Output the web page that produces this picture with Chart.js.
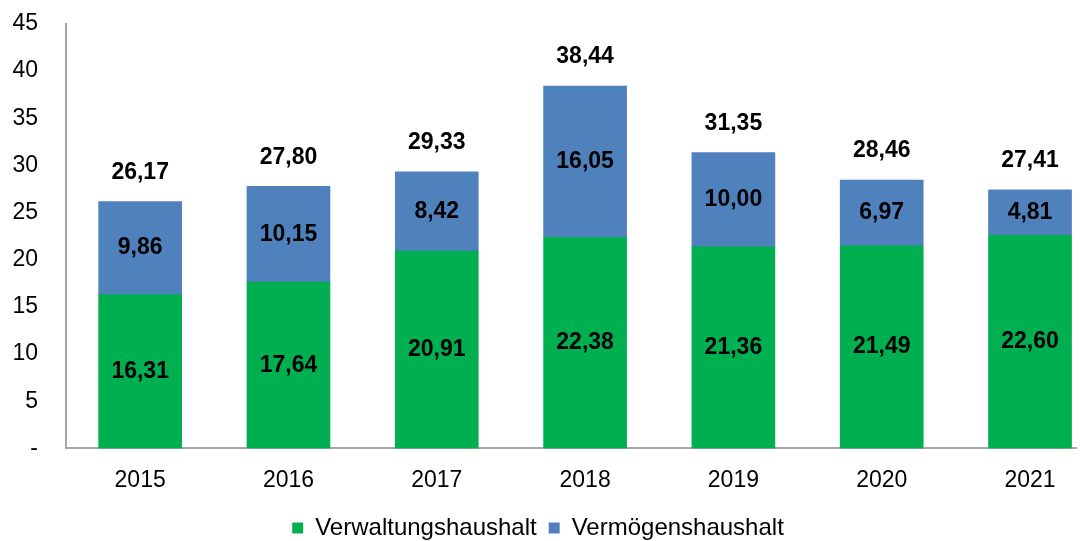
<!DOCTYPE html>
<html>
<head>
<meta charset="utf-8">
<script src="https://cdn.jsdelivr.net/npm/chart.js@4.4.1/dist/chart.umd.min.js"></script>
<style>
    html, body { margin: 0; padding: 0; background: #fff; }
    .chart_box { width: 1090px; height: 541px; }
</style>
</head>
<body>
<div class="chart_box"><canvas id="chart_container"></canvas></div>
<script>
const years = [2015, 2016, 2017, 2018, 2019, 2020, 2021];
const verwaltung = [16.31, 17.64, 20.91, 22.38, 21.36, 21.49, 22.60];
const vermoegen = [9.86, 10.15, 8.42, 16.05, 10.00, 6.97, 4.81];
const totals = [26.17, 27.80, 29.33, 38.44, 31.35, 28.46, 27.41];
const yTicks = [0, 5, 10, 15, 20, 25, 30, 35, 40, 45];

const FONT = "'Liberation Sans', Arial, sans-serif";
Chart.defaults.font.family = FONT;
Chart.defaults.font.size = 23;
Chart.defaults.color = '#000';

function fmt(v) {
    return v.toFixed(2).replace('.', ',');
}

// draws the numbers inside the segments and the totals over each column
const valueLabels = {
    id: 'valueLabels',
    afterDatasetsDraw(chart) {
        const ctx = chart.ctx;
        ctx.save();
        ctx.font = 'bold 23px ' + FONT;
        ctx.fillStyle = '#000';
        ctx.textAlign = 'center';
        ctx.textBaseline = 'middle';
        chart.data.datasets.forEach((ds, i) => {
            chart.getDatasetMeta(i).data.forEach((bar, j) => {
                ctx.fillText(fmt(ds.data[j].y), bar.x, (bar.y + bar.base) / 2);
            });
        });
        const top = chart.getDatasetMeta(1).data;
        top.forEach((bar, j) => {
            ctx.fillText(fmt(totals[j]), bar.x, bar.y - 29);
        });
        ctx.restore();
    }
};

const ctx = document.getElementById('chart_container').getContext('2d');
new Chart(ctx, {
    type: 'bar',
    data: {
        datasets: [{
            label: 'Verwaltungshaushalt',
            data: years.map((y, i) => ({ x: y, y: verwaltung[i] })),
            backgroundColor: '#00B050',
            barThickness: 83
        }, {
            label: 'Vermögenshaushalt',
            data: years.map((y, i) => ({ x: y, y: vermoegen[i] })),
            backgroundColor: '#4F81BD',
            barThickness: 83
        }]
    },
    options: {
        responsive: true,
        maintainAspectRatio: false,
        animation: false,
        layout: {
            padding: { left: 0, right: 14, top: 24, bottom: -9 }
        },
        plugins: {
            tooltip: { enabled: false },
            legend: {
                position: 'bottom',
                labels: {
                    boxWidth: 11,
                    boxHeight: 11,
                    padding: 12,
                    font: { size: 24 }
                }
            }
        },
        scales: {
            x: {
                type: 'linear',
                stacked: true,
                offset: false,
                bounds: 'data',
                min: 2014.5,
                max: 2021.31,
                grid: { display: false, offset: false },
                border: { display: true, color: '#a6a6a6', width: 2 },
                afterBuildTicks: scale => {
                    scale.ticks = years.map(v => ({ value: v }));
                },
                ticks: {
                    padding: 10,
                    callback: v => String(v)
                }
            },
            y: {
                stacked: true,
                min: 0,
                max: 45,
                grid: { display: false, drawTicks: false },
                border: { display: true, color: '#a6a6a6', width: 2 },
                afterBuildTicks: scale => {
                    scale.ticks = yTicks.map(v => ({ value: v }));
                },
                afterFit: scale => {
                    scale.width = 66;
                    scale.paddingTop = 0;
                    scale.paddingBottom = 0;
                },
                ticks: {
                    padding: 28,
                    callback: v => v === 0 ? '-' : v
                }
            }
        }
    },
    plugins: [valueLabels]
});
</script>
</body>
</html>
